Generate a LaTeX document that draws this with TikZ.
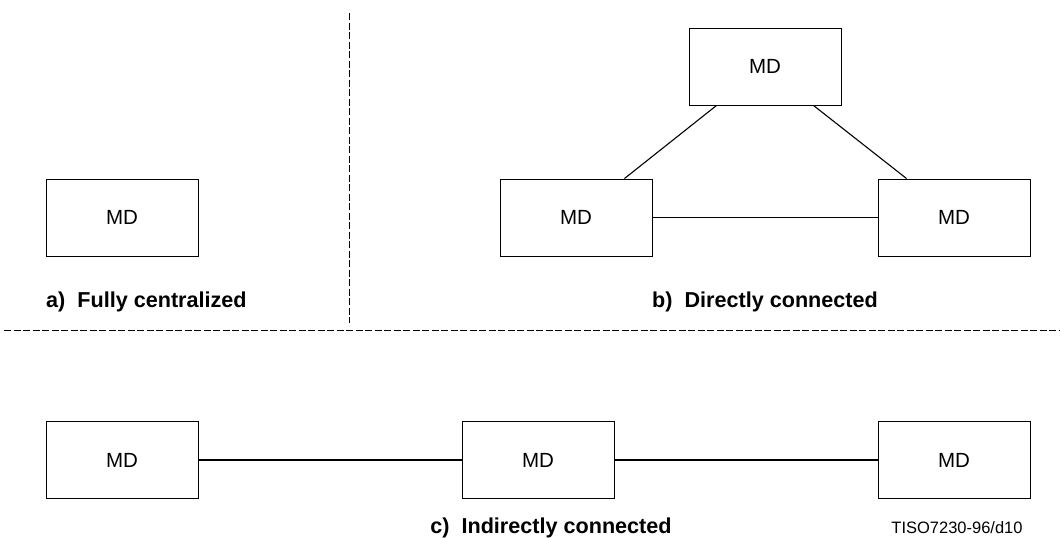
\documentclass[tikz,border=0pt]{standalone}
\usepackage{fontspec}
\setmainfont{Liberation Sans}
\usetikzlibrary{calc}
\begin{document}
\begin{tikzpicture}[x=1pt,y=-1pt,
  mdbox/.style={draw, line width=0.9pt, minimum width=152pt, minimum height=77pt, inner sep=0pt,
    font=\fontsize{20.5}{24}\selectfont},
  link/.style={line width=1.1pt},
  sep/.style={line width=0.8pt, dash pattern=on 7pt off 2.5pt},
  caption/.style={font=\fontsize{21.6}{25}\selectfont\bfseries, inner sep=0pt},
  tag/.style={font=\fontsize{16.5}{20}\selectfont, inner sep=0pt}]
\useasboundingbox (0,0) rectangle (1060,538);
% separators
\coordinate (vtop) at (349,13);
\coordinate (vbot) at (349,323);
\coordinate (hl) at (4,330);
\coordinate (hr) at (1060,330);
\draw[sep] (vtop) -- (vbot);
\draw[sep] (hl) -- (hr);
% a)
\node[mdbox] (a) at (122,217.5) {MD};
\node[caption, anchor=base west] (la) at (46,307) {a)\ \ Fully centralized};
% b)
\node[mdbox] (bt) at (765,66.5) {MD};
\node[mdbox] (bl) at (576,217.5) {MD};
\node[mdbox] (br) at (954,217.5) {MD};
\draw[link] ($(bt.south west)+(28,0)$) -- ($(bl.north east)+(-28,0)$);
\draw[link] ($(bt.south east)+(-28,0)$) -- ($(br.north west)+(29,0)$);
\draw[link] (bl) -- (br);
\node[caption, anchor=base] (lb) at (765,307) {b)\ \ Directly connected};
% c)
\node[mdbox] (cl) at (122,460) {MD};
\node[mdbox] (cm) at (538,460) {MD};
\node[mdbox] (cr) at (954,460) {MD};
\draw[link] (cl) -- (cm);
\draw[link] (cm) -- (cr);
\node[caption, anchor=base] (lc) at (551,533) {c)\ \ Indirectly connected};
\node[tag, anchor=base] (tg) at (957,533) {TISO7230-96/d10};
\end{tikzpicture}
\end{document}
